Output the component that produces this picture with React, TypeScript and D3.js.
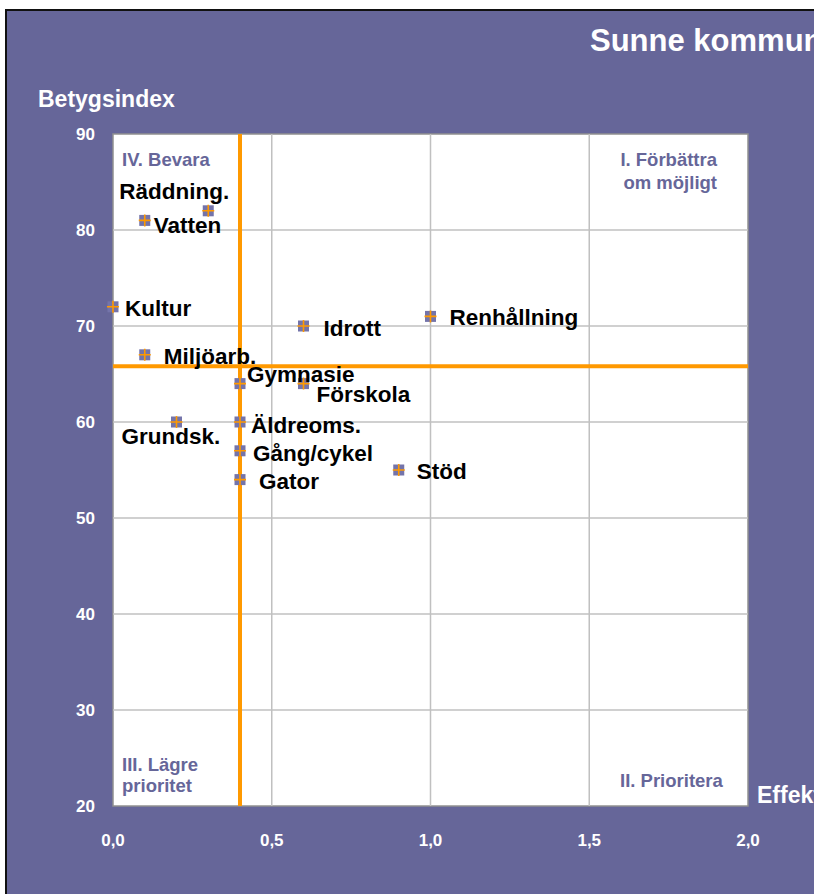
import { useEffect, useRef } from "react";
import * as d3 from "d3";

// Services: name, effekt (x), betygsindex (y)
const services = [
  "Räddning.", "Vatten", "Kultur", "Idrott", "Renhållning", "Miljöarb.", "Gymnasie",
  "Förskola", "Grundsk.", "Äldreoms.", "Gång/cykel", "Gator", "Stöd",
];
const effekt = [0.3, 0.1, 0.0, 0.6, 1.0, 0.1, 0.4, 0.6, 0.2, 0.4, 0.4, 0.4, 0.9];
const betyg = [82, 81, 72, 70, 71, 67, 64, 64, 60, 60, 57, 54, 55];

const xTicks = [0, 0.5, 1.0, 1.5, 2.0];
const yTicks = [20, 30, 40, 50, 60, 70, 80, 90];

// reference lines (quadrant split)
const xRef = 0.4;
const yRef = 65.8;

// label placement in px relative to the point (text start, baseline)
const labelOffset: Record<string, [number, number]> = {
  "Räddning.": [-89, -12],
  Vatten: [9, 13],
  Kultur: [12, 9],
  Idrott: [20, 10],
  Renhållning: [19, 9],
  "Miljöarb.": [19, 9],
  Gymnasie: [7, -2],
  Förskola: [13, 18],
  "Grundsk.": [-55, 22],
  "Äldreoms.": [11, 11],
  "Gång/cykel": [13, 10],
  Gator: [19, 9],
  Stöd: [18, 9],
};

const BG = "#666699";
const ORANGE = "#ff9900";
const FONT = "'Liberation Sans', Arial, sans-serif";

const App = () => {
  const ref = useRef<SVGSVGElement | null>(null);

  useEffect(() => {
    const svg = d3.select(ref.current);
    svg.selectAll("*").remove();

    const width = 814;
    const height = 894;
    const x = d3.scaleLinear().domain([0, 2]).range([113, 748]);
    const y = d3.scaleLinear().domain([20, 90]).range([806, 134]);

    // background panel
    svg.append("rect").attr("width", width).attr("height", height).attr("fill", "#fff");
    svg
      .append("rect")
      .attr("x", 6)
      .attr("y", 10)
      .attr("width", width + 100)
      .attr("height", height + 100)
      .attr("fill", BG)
      .attr("stroke", "#111")
      .attr("stroke-width", 2);

    // title
    svg
      .append("text")
      .attr("x", 590)
      .attr("y", 51)
      .attr("fill", "#fff")
      .attr("font-family", FONT)
      .attr("font-weight", "bold")
      .attr("font-size", 31)
      .text("Sunne kommun");

    // plot area
    svg
      .append("rect")
      .attr("x", x(0))
      .attr("y", y(90))
      .attr("width", x(2) - x(0))
      .attr("height", y(20) - y(90))
      .attr("fill", "#fff")
      .attr("stroke", "#909090")
      .attr("stroke-width", 1.5);

    // grid
    svg
      .append("g")
      .selectAll("line")
      .data(xTicks.slice(1, -1))
      .join("line")
      .attr("x1", (d) => x(d))
      .attr("x2", (d) => x(d))
      .attr("y1", y(90))
      .attr("y2", y(20))
      .attr("stroke", "#c0c0c0")
      .attr("stroke-width", 1.5);
    svg
      .append("g")
      .selectAll("line")
      .data(yTicks.slice(1, -1))
      .join("line")
      .attr("x1", x(0))
      .attr("x2", x(2))
      .attr("y1", (d) => y(d))
      .attr("y2", (d) => y(d))
      .attr("stroke", "#c0c0c0")
      .attr("stroke-width", 1.5);

    // tick labels
    svg
      .append("g")
      .selectAll("text")
      .data(yTicks)
      .join("text")
      .attr("x", 95)
      .attr("y", (d) => y(d))
      .attr("dy", "0.36em")
      .attr("text-anchor", "end")
      .attr("fill", "#fff")
      .attr("font-family", FONT)
      .attr("font-weight", "bold")
      .attr("font-size", 17)
      .text((d) => d);
    svg
      .append("g")
      .selectAll("text")
      .data(xTicks)
      .join("text")
      .attr("x", (d) => x(d))
      .attr("y", 846)
      .attr("text-anchor", "middle")
      .attr("fill", "#fff")
      .attr("font-family", FONT)
      .attr("font-weight", "bold")
      .attr("font-size", 17)
      .text((d) => d3.format(".1f")(d).replace(".", ","));

    // axis titles
    svg
      .append("text")
      .attr("x", 38)
      .attr("y", 107)
      .attr("fill", "#fff")
      .attr("font-family", FONT)
      .attr("font-weight", "bold")
      .attr("font-size", 23)
      .text("Betygsindex");
    svg
      .append("rect")
      .attr("x", 749)
      .attr("y", 776)
      .attr("width", 70)
      .attr("height", 32)
      .attr("fill", BG);
    svg
      .append("text")
      .attr("x", 757)
      .attr("y", 803)
      .attr("fill", "#fff")
      .attr("font-family", FONT)
      .attr("font-weight", "bold")
      .attr("font-size", 23)
      .text("Effekt");

    // quadrant labels
    const quad = [
      { t: "IV. Bevara", x: 122, y: 166, a: "start" },
      { t: "I. Förbättra", x: 717, y: 166, a: "end" },
      { t: "om möjligt", x: 717, y: 189, a: "end" },
      { t: "III. Lägre", x: 122, y: 771, a: "start" },
      { t: "prioritet", x: 122, y: 792, a: "start" },
      { t: "II. Prioritera", x: 620, y: 787, a: "start" },
    ];
    svg
      .append("g")
      .selectAll("text")
      .data(quad)
      .join("text")
      .attr("x", (d) => d.x)
      .attr("y", (d) => d.y)
      .attr("text-anchor", (d) => d.a)
      .attr("fill", BG)
      .attr("font-family", FONT)
      .attr("font-weight", "bold")
      .attr("font-size", 18.5)
      .text((d) => d.t);

    // reference lines
    svg
      .append("line")
      .attr("x1", x(xRef))
      .attr("x2", x(xRef))
      .attr("y1", y(90))
      .attr("y2", y(20))
      .attr("stroke", ORANGE)
      .attr("stroke-width", 4);
    svg
      .append("line")
      .attr("x1", x(0))
      .attr("x2", x(2))
      .attr("y1", y(yRef))
      .attr("y2", y(yRef))
      .attr("stroke", ORANGE)
      .attr("stroke-width", 4);

    // points
    const pts = services.map((name, i) => ({ name, ex: effekt[i], by: betyg[i] }));
    const g = svg
      .append("g")
      .selectAll("g")
      .data(pts)
      .join("g")
      .attr("transform", (d) => `translate(${x(d.ex)},${y(d.by)})`);
    g.append("rect")
      .attr("x", -5.5)
      .attr("y", -5.5)
      .attr("width", 11)
      .attr("height", 11)
      .attr("fill", "#7474aa");
    g.append("path")
      .attr("d", "M-6,0H6M0,-6V6")
      .attr("stroke", ORANGE)
      .attr("stroke-width", 1.6);

    // labels
    svg
      .append("g")
      .selectAll("text")
      .data(pts)
      .join("text")
      .attr("x", (d) => x(d.ex) + labelOffset[d.name][0])
      .attr("y", (d) => y(d.by) + labelOffset[d.name][1])
      .attr("fill", "#000")
      .attr("font-family", FONT)
      .attr("font-weight", "bold")
      .attr("font-size", 22.5)
      .text((d) => d.name);
  }, []);

  return (
    <svg
      ref={ref}
      width={814}
      height={894}
      style={{ position: "absolute", left: 0, top: 0, display: "block" }}
    />
  );
};

export default App;
